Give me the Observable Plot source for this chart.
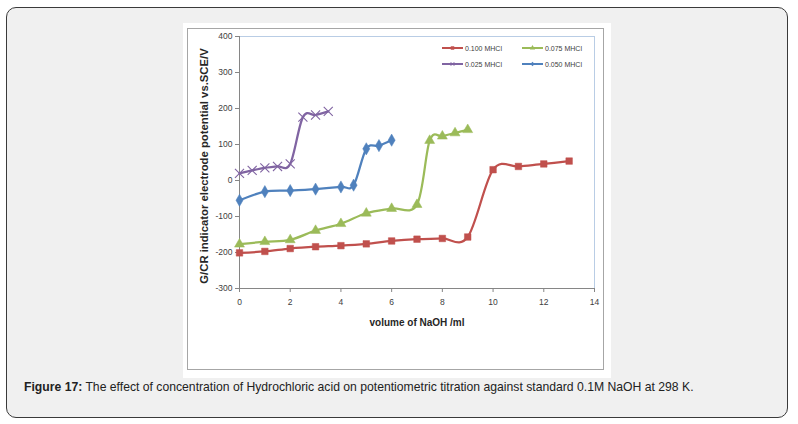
<!DOCTYPE html>
<html>
<head>
<meta charset="utf-8">
<script src="https://cdn.jsdelivr.net/npm/d3@7"></script>
<script src="https://cdn.jsdelivr.net/npm/@observablehq/plot@0.6"></script>
<style>
  html, body { margin: 0; padding: 0; background: #ffffff; }
  #page { position: relative; width: 798px; height: 424px; overflow: hidden; font-family: "Liberation Sans", Arial, sans-serif; }
  #box { position: absolute; left: 6px; top: 7px; width: 780px; height: 409px; border: 1px solid #3a3a3a; border-radius: 10px; background: #f0f0f0; }
  #img { position: absolute; left: 183px; top: 23px; width: 428px; height: 355px; background: #ffffff; }
  #chartborder { position: absolute; left: 187px; top: 28px; width: 417px; height: 342px; border: 1px solid #a6a6a6; box-sizing: border-box; }
  #plot { position: absolute; left: 188px; top: 29px; }
  .ytitle { position: absolute; left: 204px; top: 166px; transform: translate(-50%, -50%) rotate(-90deg); white-space: nowrap; font-weight: bold; font-size: 11.3px; color: #262626; }
  .xtitle { position: absolute; left: 417px; top: 322px; transform: translate(-50%, -50%); white-space: nowrap; font-weight: bold; font-size: 10px; color: #262626; }
  #legend { position: absolute; left: 0; top: 0; }
  .lg { position: absolute; display: flex; align-items: center; font-size: 7px; color: #404040; white-space: nowrap; }
  #caption { position: absolute; left: 24px; top: 380px; font-size: 12.2px; color: #222; white-space: nowrap; }
</style>
</head>
<body>
<div id="page">
  <div id="box"></div>
  <div id="img"></div>
  <div id="chartborder"></div>
  <div id="plot"></div>
  <div class="ytitle">G/CR indicator electrode potential vs.SCE/V</div>
  <div class="xtitle">volume of NaOH /ml</div>
  <div id="legend"></div>
  <div id="caption"><b>Figure 17:</b> The effect of concentration of Hydrochloric acid on potentiometric titration against standard 0.1M NaOH at 298 K.</div>
</div>
<script>
// ---- data ----
const seriesNames = ["0.100 MHCl", "0.075 MHCl", "0.025 MHCl", "0.050 MHCl"];
const seriesColors = ["#C0504D", "#9BBB59", "#8064A2", "#4F81BD"];
const seriesSymbols = ["square", "triangle", "times", "diamond"];

const x100 = [0, 1, 2, 3, 4, 5, 6, 7, 8, 9, 10, 11, 12, 13];
const y100 = [-201, -197, -189, -184, -181, -176, -168, -163, -161, -157, 30, 39, 46, 54];

const x075 = [0, 1, 2, 3, 4, 5, 6, 7, 7.5, 8, 8.5, 9];
const y075 = [-177, -170, -165, -139, -120, -91, -78, -67, 111, 123, 132, 141];

const x025 = [0, 0.5, 1, 1.5, 2, 2.5, 3, 3.5];
const y025 = [20, 28, 35, 39, 46, 176, 182, 192];

const x050 = [0, 1, 2, 3, 4, 4.5, 5, 5.5, 6];
const y050 = [-55, -31, -28, -24, -18, -13, 88, 97, 112];

const xTicks = [0, 2, 4, 6, 8, 10, 12, 14];
const yTicks = [-300, -200, -100, 0, 100, 200, 300, 400];

// ---- build tables ----
const xsAll = [x100, x075, x025, x050];
const ysAll = [y100, y075, y025, y050];
const series = seriesNames.map((name, i) => ({
  name, color: seriesColors[i], symbol: seriesSymbols[i],
  data: xsAll[i].map((x, j) => ({x, y: ysAll[i][j]}))
}));

const marks = [
  Plot.frame({stroke: "#b9cde5"}),
  Plot.ruleX([xTicks[0]], {stroke: "#868686"}),
  Plot.ruleY([yTicks[0]], {stroke: "#868686"}),
  Plot.axisX({ticks: xTicks, tickFormat: d => String(d), tickSize: 4, tickPadding: 6, stroke: "#868686", fill: "#404040", label: null}),
  Plot.axisY({ticks: yTicks, tickFormat: d => String(d), tickSize: 4, tickPadding: 3, stroke: "#868686", fill: "#404040", label: null})
];
for (const s of series) {
  marks.push(Plot.line(s.data, {x: "x", y: "y", stroke: s.color, strokeWidth: 2.25, curve: "cardinal"}));
}
for (const s of series) {
  if (s.symbol === "times") {
    marks.push(Plot.dot(s.data, {x: "x", y: "y", symbol: "times", stroke: s.color, strokeWidth: 1.1, r: 4.2}));
  } else {
    marks.push(Plot.dot(s.data, {x: "x", y: "y", symbol: s.symbol, fill: s.color, stroke: s.color, strokeWidth: 0.5, r: 3.7}));
  }
}

const chart = Plot.plot({
  width: 416, height: 341,
  marginLeft: 51, marginRight: 10, marginTop: 7, marginBottom: 82,
  x: {domain: [xTicks[0], xTicks[xTicks.length - 1]]},
  y: {domain: [yTicks[0], yTicks[yTicks.length - 1]]},
  style: {fontSize: "8.5px", fontFamily: "'Liberation Sans', Arial, sans-serif", background: "transparent", overflow: "visible"},
  marks
});
document.getElementById("plot").appendChild(chart);

// ---- legend (HTML) ----
const legendPos = [[442, 48], [522, 48], [442, 64], [522, 64]];
const legend = document.getElementById("legend");
series.forEach((s, i) => {
  const div = document.createElement("div");
  div.className = "lg";
  div.style.left = legendPos[i][0] + "px";
  div.style.top = (legendPos[i][1] - 5) + "px";
  div.style.height = "10px";
  const sw = d3.create("svg").attr("width", 22).attr("height", 10);
  sw.append("line").attr("x1", 0).attr("x2", 21).attr("y1", 5).attr("y2", 5).attr("stroke", s.color).attr("stroke-width", 2);
  const sym = {square: d3.symbolSquare, triangle: d3.symbolTriangle, times: d3.symbolTimes, diamond: d3.symbolDiamond2}[s.symbol];
  const p = sw.append("path").attr("transform", "translate(10.5,5)").attr("d", d3.symbol(sym, 12)());
  if (s.symbol === "times") p.attr("fill", "none").attr("stroke", s.color).attr("stroke-width", 0.8);
  else p.attr("fill", s.color);
  div.appendChild(sw.node());
  const t = document.createElement("span");
  t.style.marginLeft = "1px";
  t.textContent = s.name;
  div.appendChild(t);
  legend.appendChild(div);
});
</script>
</body>
</html>
